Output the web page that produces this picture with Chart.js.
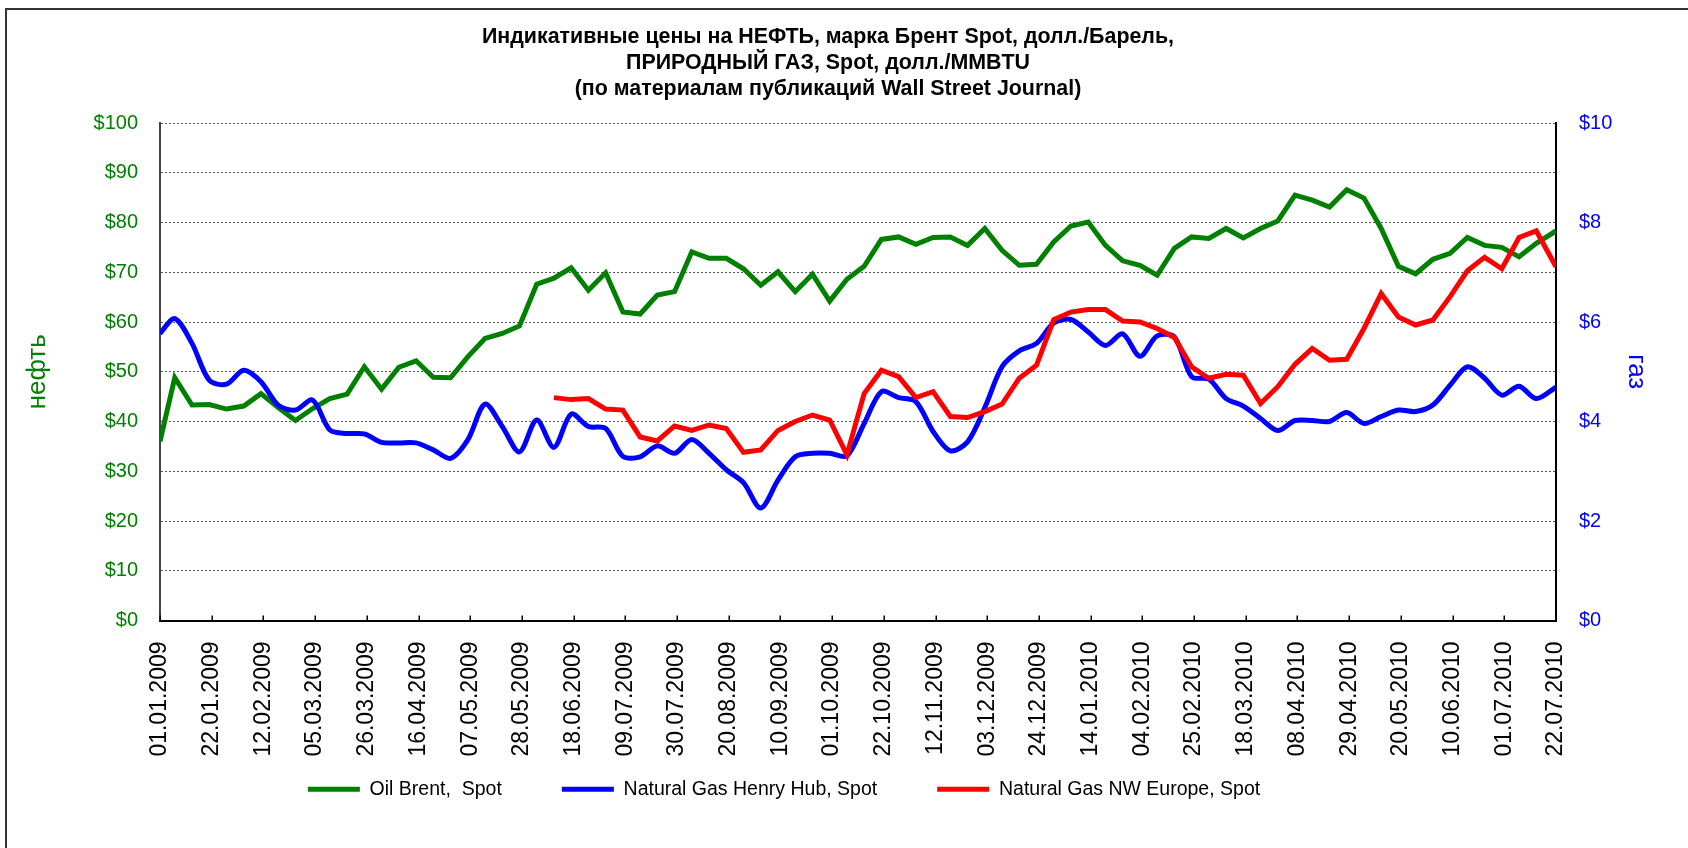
<!DOCTYPE html>
<html>
<head>
<meta charset="utf-8">
<script src="https://cdn.jsdelivr.net/npm/chart.js@4.4.1/dist/chart.umd.min.js"></script>
<style>
html,body{margin:0;padding:0;background:#fff;overflow:hidden;}
#wrap{position:relative;width:1688px;height:848px;}
#frame{position:absolute;left:5px;top:8px;right:0;bottom:0;border-top:2px solid #333;border-left:2px solid #333;pointer-events:none;}
</style>
</head>
<body>
<div id="wrap"><canvas id="c" width="1688" height="848"></canvas><div id="frame"></div></div>
<script>
const dates = [
 "01.01.2009","07.01.2009","14.01.2009","21.01.2009","28.01.2009","04.02.2009","11.02.2009","18.02.2009","25.02.2009",
 "04.03.2009","11.03.2009","18.03.2009","25.03.2009","01.04.2009","08.04.2009","15.04.2009","22.04.2009","29.04.2009",
 "06.05.2009","13.05.2009","20.05.2009","27.05.2009","03.06.2009","10.06.2009","17.06.2009","24.06.2009",
 "01.07.2009","08.07.2009","15.07.2009","22.07.2009","29.07.2009","05.08.2009","12.08.2009","19.08.2009","26.08.2009",
 "02.09.2009","09.09.2009","16.09.2009","23.09.2009","30.09.2009","07.10.2009","14.10.2009","21.10.2009","28.10.2009",
 "04.11.2009","11.11.2009","18.11.2009","25.11.2009","02.12.2009","09.12.2009","16.12.2009","23.12.2009","30.12.2009",
 "06.01.2010","13.01.2010","20.01.2010","27.01.2010","03.02.2010","10.02.2010","17.02.2010","24.02.2010",
 "03.03.2010","10.03.2010","17.03.2010","24.03.2010","31.03.2010","07.04.2010","14.04.2010","21.04.2010","28.04.2010",
 "05.05.2010","12.05.2010","19.05.2010","26.05.2010","02.06.2010","09.06.2010","16.06.2010","23.06.2010","30.06.2010",
 "07.07.2010","14.07.2010","22.07.2010"
];

const oilBrent = [
 36.0,48.8,43.3,43.4,42.5,43.1,45.6,42.8,40.2,42.6,44.6,45.5,51.0,46.5,50.9,52.2,48.9,48.8,53.0,56.7,57.7,59.2,
 67.6,68.8,70.9,66.4,69.9,62.0,61.6,65.4,66.1,74.1,72.8,72.8,70.7,67.4,70.1,66.1,69.6,64.2,68.6,71.2,76.6,77.1,
 75.6,77.0,77.1,75.4,78.8,74.4,71.4,71.6,76.1,79.3,80.1,75.4,72.3,71.4,69.4,74.8,77.1,76.8,78.8,76.9,78.8,80.3,
 85.5,84.5,83.1,86.6,84.9,78.8,71.2,69.7,72.6,73.8,77.0,75.4,75.0,73.1,75.8,78.3
];

const gasHenryHub = [
 5.77,6.07,5.57,4.83,4.75,5.03,4.80,4.33,4.23,4.43,3.83,3.76,3.75,3.58,3.57,3.57,3.43,3.26,3.63,4.35,3.90,3.39,
 4.03,3.48,4.15,3.90,3.86,3.30,3.29,3.51,3.36,3.64,3.36,3.03,2.77,2.26,2.82,3.29,3.36,3.36,3.31,3.96,4.60,4.48,
 4.40,3.80,3.41,3.59,4.28,5.10,5.42,5.57,5.98,6.05,5.80,5.53,5.76,5.31,5.72,5.70,4.90,4.85,4.46,4.31,4.06,3.82,
 4.02,4.02,4.00,4.18,3.96,4.10,4.23,4.20,4.33,4.73,5.10,4.87,4.53,4.71,4.46,4.69
];

const gasNWEurope = [
 null,null,null,null,null,null,null,null,null,null,null,null,null,null,null,null,null,null,null,null,null,null,null,
 4.48,4.44,4.46,4.25,4.23,3.69,3.61,3.91,3.82,3.93,3.86,3.38,3.43,3.82,4.00,4.13,4.03,3.33,4.56,5.03,4.90,
 4.48,4.60,4.10,4.08,4.20,4.35,4.87,5.13,6.05,6.20,6.25,6.25,6.02,6.00,5.87,5.69,5.10,4.87,4.95,4.93,4.36,4.70,
 5.15,5.47,5.23,5.25,5.87,6.57,6.10,5.94,6.04,6.51,7.03,7.30,7.07,7.70,7.83,7.11
];

const xTickLabels = [
 "01.01.2009","22.01.2009","12.02.2009","05.03.2009","26.03.2009","16.04.2009","07.05.2009","28.05.2009",
 "18.06.2009","09.07.2009","30.07.2009","20.08.2009","10.09.2009","01.10.2009","22.10.2009","12.11.2009",
 "03.12.2009","24.12.2009","14.01.2010","04.02.2010","25.02.2010","18.03.2010","08.04.2010","29.04.2010",
 "20.05.2010","10.06.2010","01.07.2010","22.07.2010"
];

const seriesNames = ["Oil Brent,  Spot", "Natural Gas Henry Hub, Spot", "Natural Gas NW Europe, Spot"];
const titleLines = [
 "Индикативные цены на НЕФТЬ, марка Брент Spot, долл./Барель,",
 "ПРИРОДНЫЙ ГАЗ, Spot, долл./MMBTU",
 "(по материалам публикаций Wall Street Journal)"
];

const BASE = Date.UTC(2009, 0, 1);
function dayIndex(s) {
  const p = s.split('.').map(Number);
  return Math.round((Date.UTC(p[2], p[1] - 1, p[0]) - BASE) / 86400000);
}
const labelByDay = {};
xTickLabels.forEach(s => { labelByDay[dayIndex(s)] = s; });
const xs = dates.map(dayIndex);
const pts = arr => arr.map((v, i) => ({x: xs[i], y: v}));

const FONT = "'Liberation Sans', Arial, sans-serif";

const innerTicks = {
  id: 'innerTicks',
  afterDraw(chart) {
    const sx = chart.scales.x, ctx = chart.ctx, b = chart.chartArea.bottom;
    ctx.save();
    ctx.strokeStyle = '#000';
    ctx.lineWidth = 1.5;
    sx.ticks.forEach(t => {
      const px = Math.round(sx.getPixelForValue(t.value)) + 0.25;
      ctx.beginPath(); ctx.moveTo(px, b); ctx.lineTo(px, b - 5); ctx.stroke();
    });
    ctx.restore();
  }
};

// move the legend row up/left into the place it has in the original
const legendPlace = {
  id: 'legendPlace',
  afterLayout(chart) {
    const lg = chart.legend;
    if (!lg) return;
    lg.left -= 44; lg.right -= 44;
    lg.top -= 39; lg.bottom -= 39;
  }
};

new Chart(document.getElementById('c'), {
  type: 'line',
  data: {
    datasets: [
      {label: seriesNames[0], data: pts(oilBrent), yAxisID: 'y', borderColor: '#008000', backgroundColor: '#008000',
       borderWidth: 5, pointRadius: 0, tension: 0, order: 2},
      {label: seriesNames[1], data: pts(gasHenryHub), yAxisID: 'y1', borderColor: '#0000ff', backgroundColor: '#0000ff',
       borderWidth: 5, pointRadius: 0, tension: 0.3, order: 1},
      {label: seriesNames[2], data: pts(gasNWEurope), yAxisID: 'y1', borderColor: '#ff0000', backgroundColor: '#ff0000',
       borderWidth: 5, pointRadius: 0, tension: 0, order: 0, spanGaps: false}
    ]
  },
  options: {
    responsive: false,
    animation: false,
    events: [],
    layout: {padding: {top: 0, left: 0, right: 32, bottom: 0}},
    plugins: {
      tooltip: {enabled: false},
      title: {
        display: true, text: titleLines, color: '#000',
        font: {family: FONT, size: 21.4, weight: 'bold', lineHeight: 1.215},
        padding: {top: 24, bottom: 21}
      },
      legend: {
        position: 'bottom',
        labels: {
          usePointStyle: true, pointStyle: 'line', pointStyleWidth: 52,
          padding: 60, color: '#000',
          font: {family: FONT, size: 19.5},
          sort: (a, b) => a.datasetIndex - b.datasetIndex
        }
      }
    },
    scales: {
      x: {
        type: 'linear', min: 0, max: 567,
        afterBuildTicks: s => { s.ticks = xTickLabels.map(l => ({value: dayIndex(l)})); },
        afterFit: s => { s.height = 138; },
        ticks: {
          autoSkip: false, maxRotation: 90, minRotation: 90, padding: 21, color: '#000',
          font: {family: FONT, size: 23},
          callback: v => labelByDay[v] || ''
        },
        grid: {drawOnChartArea: false, drawTicks: false},
        border: {color: '#000', width: 2}
      },
      y: {
        position: 'left', min: 0, max: 100,
        afterFit: s => { s.width = 160; },
        ticks: {stepSize: 10, padding: 22, color: '#008000', font: {family: FONT, size: 20},
                callback: v => '$' + v},
        grid: {color: '#555', lineWidth: 1, drawTicks: false},
        border: {color: '#444', width: 2, dash: [2, 2]},
        title: {display: true, text: 'нефть', color: '#008000', font: {family: FONT, size: 26, lineHeight: 1.2},
                padding: {top: 22, bottom: 0}}
      },
      y1: {
        position: 'right', min: 0, max: 10,
        afterFit: s => { s.width = 100; },
        ticks: {stepSize: 2, padding: 23, color: '#0000ff', font: {family: FONT, size: 20},
                callback: v => '$' + v},
        grid: {drawOnChartArea: false, drawTicks: false},
        border: {color: '#000', width: 2},
        title: {display: true, text: 'газ', color: '#0000ff', font: {family: FONT, size: 26, lineHeight: 1.2},
                padding: {top: 4, bottom: 0}}
      }
    }
  },
  plugins: [innerTicks, legendPlace]
});
</script>
</body>
</html>
